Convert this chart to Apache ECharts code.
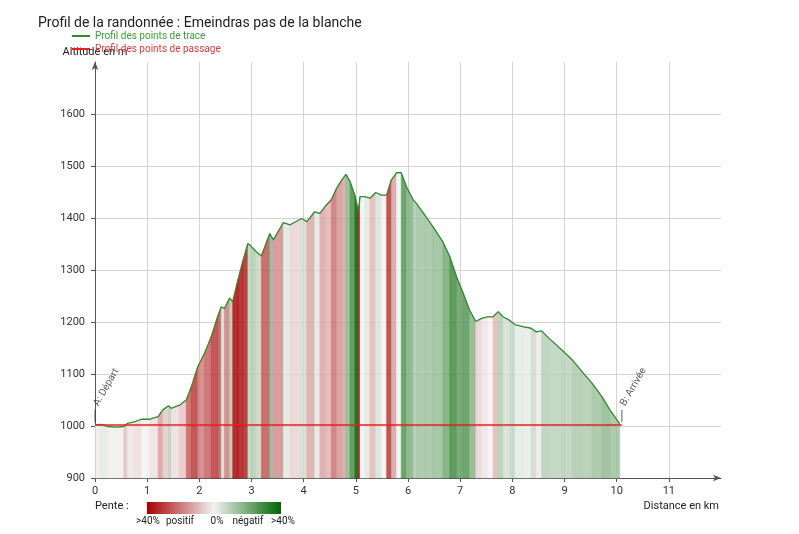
<!DOCTYPE html>
<html><head><meta charset="utf-8">
<script src="https://cdn.jsdelivr.net/npm/echarts@6/dist/echarts.min.js"></script>
<style>html,body{margin:0;padding:0;background:#fff}#c{width:799px;height:534px}</style>
</head><body><div id="c"></div>
<script>
// ---- data ----
const titleText = 'Profil de la randonnée : Emeindras pas de la blanche';
const distanceKm = [0.00,0.10,0.25,0.40,0.55,0.62,0.75,0.89,1.05,1.21,1.30,1.41,1.46,1.62,1.75,1.85,1.97,2.10,2.23,2.36,2.42,2.48,2.58,2.64,2.74,2.84,2.93,2.99,3.08,3.19,3.35,3.42,3.61,3.74,3.96,4.06,4.21,4.31,4.41,4.53,4.63,4.73,4.81,4.89,4.98,5.03,5.05,5.08,5.17,5.27,5.38,5.49,5.59,5.68,5.78,5.87,5.97,6.10,6.16,6.32,6.48,6.67,6.80,6.93,7.06,7.18,7.30,7.41,7.53,7.63,7.73,7.82,7.95,8.05,8.20,8.36,8.46,8.56,8.70,8.95,9.15,9.34,9.53,9.72,9.87,10.06];
const altitudeM = [1002,1003,999,998,999,1005,1008,1013,1013,1018,1031,1039,1034,1040,1050,1076,1114,1140,1172,1213,1229,1226,1246,1239,1281,1319,1351,1346,1336,1327,1370,1358,1391,1387,1399,1393,1412,1409,1422,1435,1457,1473,1484,1470,1444,1422,1412,1441,1441,1438,1449,1444,1444,1473,1487,1487,1460,1435,1428,1406,1383,1354,1326,1287,1255,1223,1201,1207,1210,1210,1220,1210,1203,1195,1191,1188,1181,1183,1169,1146,1127,1104,1082,1056,1031,1004];
const passageDist = [0, 10.1];
const passageAlt = [1002, 1002];
const passageNames = ['A: Départ', 'B: Arrivée'];
const seriesNames = ['Profil des points de trace', 'Profil des points de passage'];
const slopeLegendLabels = ['>40%', 'positif', '0%', 'négatif', '>40%'];
const yMin = 900, yMax = 1700, xMax = 12;

// ---- helpers ----
function mix(a, b, t) {
  const r = Math.round(a[0] + (b[0] - a[0]) * t);
  const g = Math.round(a[1] + (b[1] - a[1]) * t);
  const bl = Math.round(a[2] + (b[2] - a[2]) * t);
  return 'rgb(' + r + ',' + g + ',' + bl + ')';
}
const RED = [168, 0, 0], MID = [242, 242, 242], GREEN = [0, 100, 0];
function slopeColor(s) {
  const t = Math.min(Math.abs(s) / 40, 1);
  return s >= 0 ? mix(MID, RED, t) : mix(MID, GREEN, t);
}
const profile = distanceKm.map((d, i) => [d, altitudeM[i]]);
const segments = [];
for (let i = 0; i < distanceKm.length - 1; i++) {
  const dx = (distanceKm[i + 1] - distanceKm[i]) * 1000;
  const slope = (altitudeM[i + 1] - altitudeM[i]) / dx * 100;
  segments.push([distanceKm[i], altitudeM[i], distanceKm[i + 1], altitudeM[i + 1], slope]);
}
const passage = passageDist.map((d, i) => [d, passageAlt[i]]);
const markers = passageDist.map((d, i) => [d, passageAlt[i], passageNames[i]]);

const FONT = 'Roboto';
const chart = echarts.init(document.getElementById('c'));
chart.setOption({
  animation: false,
  textStyle: { fontFamily: FONT },
  title: { text: titleText, left: 33, top: 11, textStyle: { fontSize: 14, fontWeight: 'normal', color: '#222', fontFamily: FONT } },
  legend: {
    orient: 'vertical', left: 72, top: 31, padding: 0, itemGap: 3, itemWidth: 18, itemHeight: 2, selectedMode: false,
    icon: 'rect',
    textStyle: { fontSize: 10, fontFamily: FONT },
    data: [
      { name: seriesNames[0], textStyle: { color: '#3a9d3a' } },
      { name: seriesNames[1], textStyle: { color: '#e0363c' } }
    ]
  },
  grid: { left: 95, right: 78, top: 62, bottom: 56, containLabel: false },
  xAxis: {
    type: 'value', min: 0, max: xMax, interval: 1,
    name: 'Distance en km', nameLocation: 'end', nameGap: -2,
    nameTextStyle: { align: 'right', verticalAlign: 'top', padding: [23, 0, 0, 0], fontSize: 11, color: '#222' },
    axisLine: { show: true, lineStyle: { color: '#555', width: 1 }, symbol: ['none', 'arrow'], symbolSize: [5, 8] },
    axisTick: { show: true, length: 4, lineStyle: { color: '#555' } },
    axisLabel: { fontSize: 11, color: '#333', margin: 8, showMaxLabel: false },
    splitLine: { show: true, showMinLine: false, showMaxLine: false, lineStyle: { color: '#d4d4d4', width: 1 } }
  },
  yAxis: {
    type: 'value', min: yMin, max: yMax, interval: 100,
    name: 'Altitude en m', nameLocation: 'end', nameGap: 4,
    nameTextStyle: { fontSize: 11, color: '#222', align: 'center' },
    axisLine: { show: true, lineStyle: { color: '#555', width: 1 }, symbol: ['none', 'arrow'], symbolSize: [5, 8] },
    axisTick: { show: true, length: 4, lineStyle: { color: '#555' } },
    axisLabel: { fontSize: 11, color: '#333', margin: 10, showMaxLabel: false, formatter: v => String(v) },
    splitLine: { show: true, showMinLine: false, showMaxLine: false, lineStyle: { color: '#d4d4d4', width: 1 } }
  },
  series: [
    {
      type: 'custom', name: 'pente', silent: true, z: 1,
      encode: { x: [0, 2], y: [1, 3] },
      data: segments,
      renderItem: function (params, api) {
        const x0 = api.value(0), y0 = api.value(1), x1 = api.value(2), y1 = api.value(3), s = api.value(4);
        const col = slopeColor(s);
        return {
          type: 'polygon',
          shape: { points: [api.coord([x0, y0]), api.coord([x1, y1]), api.coord([x1, yMin]), api.coord([x0, yMin])] },
          style: { fill: col, stroke: col, lineWidth: 0.5, opacity: 0.82 }
        };
      }
    },
    {
      type: 'line', name: seriesNames[0], data: profile, symbol: 'none', z: 3,
      lineStyle: { color: '#2e8b2e', width: 1.3 }, itemStyle: { color: '#2e8b2e' }
    },
    {
      type: 'line', name: seriesNames[1], data: passage, symbol: 'none', z: 4,
      lineStyle: { color: '#e8201e', width: 1.5 }, itemStyle: { color: '#e8201e' }
    },
    {
      type: 'scatter', name: 'waypoints', data: markers, silent: true, z: 5,
      symbol: 'rect', symbolSize: [1, 12], symbolOffset: [0, -9],
      itemStyle: { color: '#333' },
      label: {
        show: true, formatter: p => p.value[2], position: 'top', distance: 3, offset: [2, 0],
        rotate: 60, align: 'left', verticalAlign: 'middle', fontSize: 10, color: '#333', fontFamily: FONT
      }
    }
  ],
  graphic: [
    { type: 'text', left: 95, top: 501, style: { text: 'Pente :', fontSize: 11, fill: '#222', fontFamily: FONT } },
    { type: 'rect', left: 147, top: 502, shape: { width: 134, height: 12 },
      style: { fill: new echarts.graphic.LinearGradient(0, 0, 1, 0, [
        { offset: 0, color: 'rgb(168,0,0)' }, { offset: 0.5, color: 'rgb(242,242,242)' }, { offset: 1, color: 'rgb(0,100,0)' }]) } },
    { type: 'text', x: 148, y: 521, style: { text: slopeLegendLabels[0], fontSize: 10, fill: '#222', align: 'center', verticalAlign: 'middle', fontFamily: FONT } },
    { type: 'text', x: 180, y: 521, style: { text: slopeLegendLabels[1], fontSize: 10, fill: '#222', align: 'center', verticalAlign: 'middle', fontFamily: FONT } },
    { type: 'text', x: 217, y: 521, style: { text: slopeLegendLabels[2], fontSize: 10, fill: '#222', align: 'center', verticalAlign: 'middle', fontFamily: FONT } },
    { type: 'text', x: 248, y: 521, style: { text: slopeLegendLabels[3], fontSize: 10, fill: '#222', align: 'center', verticalAlign: 'middle', fontFamily: FONT } },
    { type: 'text', x: 283, y: 521, style: { text: slopeLegendLabels[4], fontSize: 10, fill: '#222', align: 'center', verticalAlign: 'middle', fontFamily: FONT } }
  ]
});
</script></body></html>
